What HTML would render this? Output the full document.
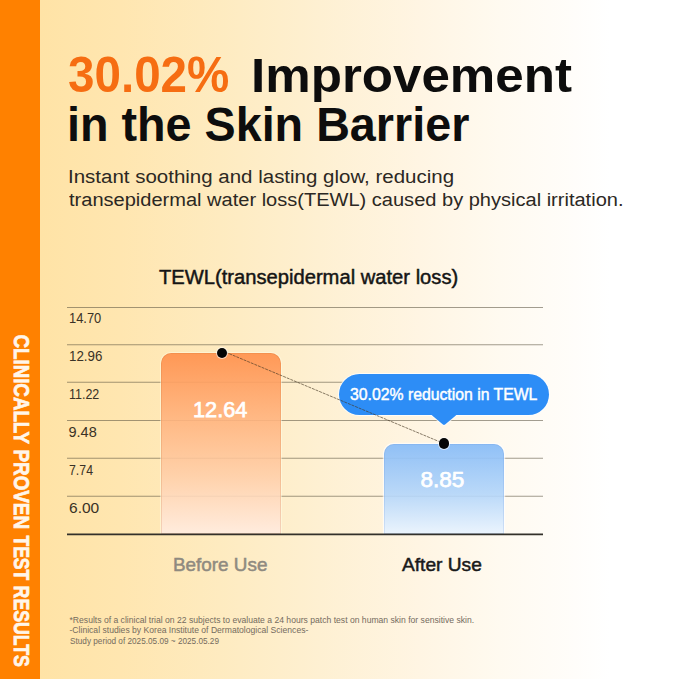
<!DOCTYPE html>
<html><head><meta charset="utf-8">
<style>
html,body{margin:0;padding:0;}
body{width:679px;height:679px;position:relative;overflow:hidden;font-family:"Liberation Sans",sans-serif;
background:linear-gradient(to right,#FFE3A6 40px,#FFE6B0 120px,#FEEBC0 220px,#FEF0D2 320px,#FFF5E3 420px,#FFFAF0 500px,#FFFDFA 575px,#FFFFFF 610px);}
.t{position:absolute;white-space:nowrap;line-height:1;transform-origin:0 0;}
.bar{position:absolute;left:0;top:0;width:40px;height:679px;background:#FF8100;}
.b1{position:absolute;left:161.1px;width:119.7px;top:353px;height:181px;border-radius:10.5px 10.5px 0 0;box-shadow:inset 0 0 0 0.8px rgba(200,110,50,0.25),0 0 0 1px rgba(255,255,235,0.45);
background:linear-gradient(to bottom,rgba(255,146,78,0.93),rgba(255,178,124,0.9) 35%,rgba(255,206,168,0.88) 68%,rgba(255,236,224,0.92));}
.b2{position:absolute;left:384px;width:119.7px;top:444px;height:90px;border-radius:10px 10px 0 0;box-shadow:inset 0 0 0 0.8px rgba(90,140,220,0.22),0 0 0 1.2px rgba(255,255,255,0.65);
background:linear-gradient(to bottom,rgba(138,189,247,0.95),rgba(178,213,250,0.9) 55%,rgba(234,244,254,0.95));}
.dot{position:absolute;width:10.6px;height:10.6px;border-radius:50%;background:#050505;box-shadow:0 0 0 1px rgba(255,255,255,0.6);}
.bub{position:absolute;left:338.6px;top:373.8px;width:210.2px;height:40.8px;border-radius:20.4px;background:#2D8DF6;box-shadow:0 0 0 1px rgba(255,255,255,0.75);}
.vt{position:absolute;left:0;top:0;white-space:nowrap;font-weight:700;color:#FFF6EA;font-size:22.5px;line-height:1;transform-origin:0 0;-webkit-text-stroke:0.75px #FFF6EA;}
</style></head><body>
<div class="bar"></div>
<div class="vt" style="transform:translate(28.7px,334.50px) rotate(90deg) scaleX(0.832) translate(0,-3px);">CLINICALLY</div>
<div class="vt" style="transform:translate(28.7px,449.50px) rotate(90deg) scaleX(0.837) translate(0,-3px);">PROVEN</div>
<div class="vt" style="transform:translate(28.7px,535.40px) rotate(90deg) scaleX(0.781) translate(0,-3px);">TEST</div>
<div class="vt" style="transform:translate(28.7px,585.60px) rotate(90deg) scaleX(0.787) translate(0,-3px);">RESULTS</div>
<svg style="position:absolute;left:0;top:0" width="679" height="679"><line x1="67" x2="543" y1="307.5" y2="307.5" stroke="rgba(85,78,60,0.55)" stroke-width="1.1"/><line x1="67" x2="543" y1="344.8" y2="344.8" stroke="rgba(85,78,60,0.55)" stroke-width="1.1"/><line x1="67" x2="543" y1="382.3" y2="382.3" stroke="rgba(85,78,60,0.55)" stroke-width="1.1"/><line x1="67" x2="543" y1="420.5" y2="420.5" stroke="rgba(85,78,60,0.55)" stroke-width="1.1"/><line x1="67" x2="543" y1="458.3" y2="458.3" stroke="rgba(85,78,60,0.55)" stroke-width="1.1"/><line x1="67" x2="543" y1="496.3" y2="496.3" stroke="rgba(85,78,60,0.55)" stroke-width="1.1"/></svg>
<div class="b1"></div>
<div class="b2"></div>
<svg style="position:absolute;left:0;top:0" width="679" height="679"><line x1="67" x2="543" y1="534.4" y2="534.4" stroke="#33302a" stroke-width="1.8"/></svg>
<svg style="position:absolute;left:0;top:0" width="679" height="679">
<path d="M428 412 L460 412 L445.3 424.2 Q444 425.2 442.7 424.2 Z" fill="#2D8DF6" stroke="rgba(255,255,255,0.75)" stroke-width="2"/>
</svg>
<div class="bub"></div>
<svg style="position:absolute;left:0;top:0" width="679" height="679"><path d="M428 412 L460 412 L445.3 424.2 Q444 425.2 442.7 424.2 Z" fill="#2D8DF6"/>
<line x1="222" y1="350.7" x2="444" y2="443.6" stroke="rgba(70,55,35,0.72)" stroke-width="0.9" stroke-dasharray="3 0.9"/></svg>
<div class="dot" style="left:216.7px;top:347.9px"></div>
<div class="dot" style="left:438.7px;top:438.3px"></div>
<div class="t" style="left:67.80px;top:50.40px;font-size:49.5px;font-weight:700;color:#F66D12;transform:scaleX(0.961);">30.02%</div>
<div class="t" style="left:250.50px;top:50.94px;font-size:48.5px;font-weight:700;color:#0d0d0d;transform:scaleX(1.054);">Improvement</div>
<div class="t" style="left:66.80px;top:99.94px;font-size:48.5px;font-weight:700;color:#0d0d0d;transform:scaleX(0.963);">in the Skin Barrier</div>
<div class="t" style="left:68.00px;top:167.76px;font-size:18px;font-weight:400;color:#2c2823;transform:scaleX(1.138);">Instant soothing and lasting glow, reducing</div>
<div class="t" style="left:69.00px;top:191.26px;font-size:18px;font-weight:400;color:#2c2823;transform:scaleX(1.113);">transepidermal water loss(TEWL) caused by physical irritation.</div>
<div class="t" style="left:159.20px;top:267.58px;font-size:19.4px;font-weight:400;color:#151515;transform:scaleX(1.04);-webkit-text-stroke:0.45px #151515;">TEWL(transepidermal water loss)</div>
<div class="t" style="left:68.50px;top:310.53px;font-size:14.5px;font-weight:400;color:#3a3226;transform:scaleX(0.89);">14.70</div>
<div class="t" style="left:68.50px;top:348.73px;font-size:14.5px;font-weight:400;color:#3a3226;transform:scaleX(0.92);">12.96</div>
<div class="t" style="left:68.50px;top:386.93px;font-size:14.5px;font-weight:400;color:#3a3226;transform:scaleX(0.86);">11.22</div>
<div class="t" style="left:68.50px;top:425.13px;font-size:14.5px;font-weight:400;color:#3a3226;">9.48</div>
<div class="t" style="left:68.50px;top:463.33px;font-size:14.5px;font-weight:400;color:#3a3226;transform:scaleX(0.85);">7.74</div>
<div class="t" style="left:68.50px;top:501.33px;font-size:14.5px;font-weight:400;color:#3a3226;transform:scaleX(1.07);">6.00</div>
<div class="t" style="left:193.00px;top:398.65px;font-size:22.5px;font-weight:400;color:#ffffff;transform:scaleX(0.965);-webkit-text-stroke:0.75px #ffffff;">12.64</div>
<div class="t" style="left:420.50px;top:468.95px;font-size:22.5px;font-weight:400;color:#ffffff;-webkit-text-stroke:0.75px #ffffff;">8.85</div>
<div class="t bt" style="left:349.50px;top:387.06px;font-size:16px;font-weight:400;color:#ffffff;transform:scaleX(0.986);-webkit-text-stroke:0.45px #ffffff;">30.02% reduction in TEWL</div>
<div class="t" style="left:172.60px;top:556.34px;font-size:18.5px;font-weight:400;color:#8f8a80;transform:scaleX(1.02);-webkit-text-stroke:0.5px #8f8a80;">Before Use</div>
<div class="t" style="left:401.80px;top:556.34px;font-size:18.5px;font-weight:400;color:#1a1a1a;transform:scaleX(1.035);-webkit-text-stroke:0.5px #1a1a1a;">After Use</div>
<div class="t" style="left:69.50px;top:616.02px;font-size:8.6px;font-weight:400;color:#746b5e;">*Results of a clinical trial on 22 subjects to evaluate a 24 hours patch test on human skin for sensitive skin.</div>
<div class="t" style="left:69.50px;top:626.42px;font-size:8.6px;font-weight:400;color:#746b5e;">-Clinical studies by Korea Institute of Dermatological Sciences-</div>
<div class="t" style="left:69.50px;top:636.92px;font-size:8.6px;font-weight:400;color:#746b5e;transform:scaleX(0.955);">Study period of 2025.05.09 ~ 2025.05.29</div>
</body></html>
